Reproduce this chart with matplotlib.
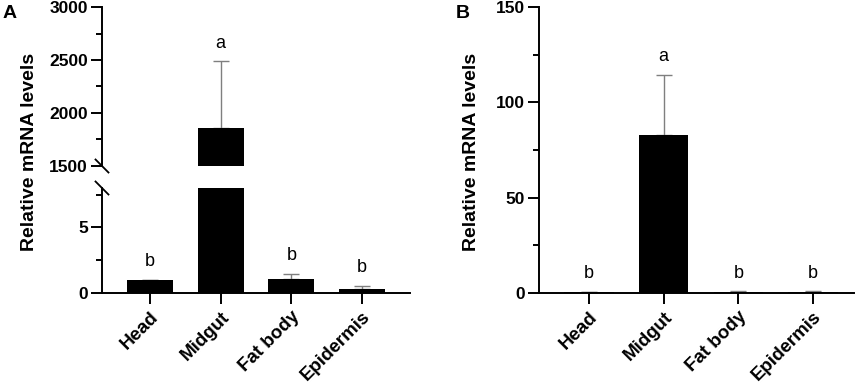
import matplotlib
matplotlib.use("Agg")
import matplotlib.pyplot as plt
from matplotlib.ticker import MultipleLocator

plt.rcParams['font.family'] = ['Liberation Sans', 'DejaVu Sans']

tissues = ['Head', 'Midgut', 'Fat body', 'Epidermis']
# panel A (broken axis)
a_mean = [1.0, 1862, 1.05, 0.3]
a_err = [0.0, 625, 0.41, 0.25]
a_letters = ['b', 'a', 'b', 'b']
# panel B
b_mean = [0.5, 83.0, 0.6, 0.5]
b_err = [0.1, 31.5, 0.4, 0.4]
b_letters = ['b', 'a', 'b', 'b']

W, H = 865, 383
fig = plt.figure(figsize=(W / 100, H / 100), dpi=100)

def box(l, r, t, b):
    # pixel box -> figure fraction
    return [l / W, (H - b) / H, (r - l) / W, (b - t) / H]

LW = 1.4
ERRC = '#7f7f7f'

def style(ax, bottom=True):
    for s in ['top', 'right']:
        ax.spines[s].set_visible(False)
    ax.spines['left'].set_linewidth(LW)
    ax.spines['bottom'].set_linewidth(LW)
    ax.tick_params(axis='y', which='major', length=8, width=LW, labelsize=12.5, pad=2)
    ax.tick_params(axis='y', which='minor', length=4.5, width=LW)
    for lab in ax.get_yticklabels():
        lab.set_fontweight('bold')
    if bottom:
        ax.tick_params(axis='x', which='major', length=8, width=LW, pad=3)
        ax.set_xticks(range(len(tissues)))
        ax.set_xticklabels(tissues, rotation=45, ha='right', va='top',
                           rotation_mode='anchor', fontsize=13.5, fontweight='bold')
    else:
        ax.spines['bottom'].set_visible(False)
        ax.set_xticks([])

def draw_bars(ax, means, errs, width):
    x = range(len(means))
    ax.bar(x, means, width=width, color='black', zorder=3)
    ax.errorbar(x, means, yerr=[[0] * len(errs), errs], fmt='none',
                ecolor=ERRC, elinewidth=1.0, capsize=6, capthick=1.0, zorder=2)

# ---------- panel A ----------
axA_top = fig.add_axes(box(102, 410, 7, 166))
axA_bot = fig.add_axes(box(102, 410, 188, 293))
for ax in (axA_top, axA_bot):
    draw_bars(ax, a_mean, a_err, 0.65)
    ax.set_xlim(-0.68, 3.68)
axA_top.set_ylim(1500, 3000)
axA_top.yaxis.set_major_locator(MultipleLocator(500))
axA_top.yaxis.set_minor_locator(MultipleLocator(250))
axA_bot.set_ylim(0, 8)
axA_bot.yaxis.set_major_locator(MultipleLocator(5))
axA_bot.yaxis.set_minor_locator(MultipleLocator(2.5))
style(axA_top, bottom=False)
style(axA_bot)
for lab in axA_top.get_yticklabels() + axA_bot.get_yticklabels():
    lab.set_fontweight('bold')

for i, (m, e, t) in enumerate(zip(a_mean, a_err, a_letters)):
    ax = axA_top if m + e > 8 else axA_bot
    ax.annotate(t, (i, m + e), xytext=(0, 13), textcoords='offset points',
                ha='center', va='center', fontsize=13, annotation_clip=False)

# break marks
for ax, yy in ((axA_top, 0), (axA_bot, 1)):
    ax.annotate('', xy=(0, yy), xycoords='axes fraction', annotation_clip=False)
    ax.plot([-0.021, 0.021], [yy + 6.5 / (ax.bbox.height), yy - 6.5 / (ax.bbox.height)],
            transform=ax.transAxes, color='black', lw=1.3, clip_on=False)

# ---------- panel B ----------
axB = fig.add_axes(box(539, 854, 7, 293))
draw_bars(axB, b_mean, b_err, 0.66)
axB.set_xlim(-0.67, 3.55)
axB.set_ylim(0, 150)
axB.yaxis.set_major_locator(MultipleLocator(50))
axB.yaxis.set_minor_locator(MultipleLocator(25))
style(axB)
for lab in axB.get_yticklabels():
    lab.set_fontweight('bold')
for i, (m, e, t) in enumerate(zip(b_mean, b_err, b_letters)):
    axB.annotate(t, (i, m + e), xytext=(0, 13), textcoords='offset points',
                 ha='center', va='center', fontsize=13)

# labels
fig.text(30 / W, 1 - 152 / H, 'Relative mRNA levels', rotation=90, ha='center', va='center',
         fontsize=14, fontweight='bold')
fig.text(472 / W, 1 - 152 / H, 'Relative mRNA levels', rotation=90, ha='center', va='center',
         fontsize=14, fontweight='bold')
fig.text(10 / W, 1 - 13 / H, 'A', ha='center', va='center', fontsize=14, fontweight='bold')
fig.text(463 / W, 1 - 13 / H, 'B', ha='center', va='center', fontsize=14, fontweight='bold')

fig.savefig('out.png', dpi=100)
